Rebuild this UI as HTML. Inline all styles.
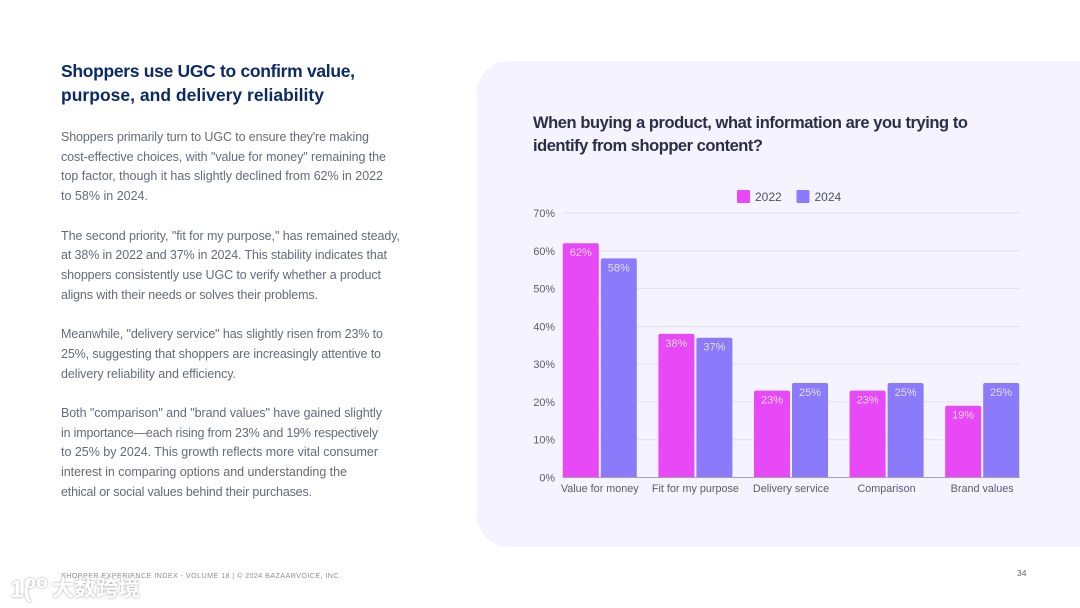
<!DOCTYPE html>
<html lang="en">
<head>
<meta charset="utf-8">
<title>Shoppers use UGC</title>
<style>
html,body{margin:0;padding:0;width:1080px;height:608px;overflow:hidden;background:#fff}
svg{display:block;filter:blur(.35px)}
text{font-family:"Liberation Sans","Noto Sans CJK SC",sans-serif}
.h{font-size:17.5px;font-weight:700;fill:#0b2a66}
.b{font-size:12.5px;fill:#666a79}
.t{font-size:16.5px;font-weight:700;fill:#2c2e45}
.tick{font-size:10.8px;fill:#5a5c6b}
.foot{font-size:7.2px;fill:#8e9098}
</style>
</head>
<body>
<svg id="page" width="1080" height="608" viewBox="0 0 1080 608" xmlns="http://www.w3.org/2000/svg">
<defs>
<filter id="wm" x="-10%" y="-20%" width="120%" height="140%"><feDropShadow dx="0" dy="0" stdDeviation="1" flood-color="#8a8a8a" flood-opacity=".9"/></filter>
</defs>
<rect x="477" y="61" width="640" height="486" rx="32" fill="#f5f3ff"/>

<g>
<text class="h" x="61" y="77" textLength="294" lengthAdjust="spacing">Shoppers use UGC to confirm value,</text>
<text class="h" x="61" y="101" textLength="263" lengthAdjust="spacing">purpose, and delivery reliability</text>
</g>

<g>
<text class="b" x="61" y="141" textLength="308" lengthAdjust="spacing">Shoppers primarily turn to UGC to ensure they're making</text>
<text class="b" x="61" y="161" textLength="325" lengthAdjust="spacing">cost-effective choices, with "value for money" remaining the</text>
<text class="b" x="61" y="180" textLength="322" lengthAdjust="spacing">top factor, though it has slightly declined from 62% in 2022</text>
<text class="b" x="61" y="200" textLength="87" lengthAdjust="spacing">to 58% in 2024.</text>
</g>
<g>
<text class="b" x="61" y="240" textLength="339" lengthAdjust="spacing">The second priority, "fit for my purpose," has remained steady,</text>
<text class="b" x="61" y="259" textLength="326" lengthAdjust="spacing">at 38% in 2022 and 37% in 2024. This stability indicates that</text>
<text class="b" x="61" y="279" textLength="320" lengthAdjust="spacing">shoppers consistently use UGC to verify whether a product</text>
<text class="b" x="61" y="299" textLength="257" lengthAdjust="spacing">aligns with their needs or solves their problems.</text>
</g>
<g>
<text class="b" x="61" y="338" textLength="322" lengthAdjust="spacing">Meanwhile, "delivery service" has slightly risen from 23% to</text>
<text class="b" x="61" y="358" textLength="320" lengthAdjust="spacing">25%, suggesting that shoppers are increasingly attentive to</text>
<text class="b" x="61" y="378" textLength="175" lengthAdjust="spacing">delivery reliability and efficiency.</text>
</g>
<g>
<text class="b" x="61" y="417" textLength="321" lengthAdjust="spacing">Both "comparison" and "brand values" have gained slightly</text>
<text class="b" x="61" y="437" textLength="317" lengthAdjust="spacing">in importance—each rising from 23% and 19% respectively</text>
<text class="b" x="61" y="456" textLength="317" lengthAdjust="spacing">to 25% by 2024. This growth reflects more vital consumer</text>
<text class="b" x="61" y="476" textLength="286" lengthAdjust="spacing">interest in comparing options and understanding the</text>
<text class="b" x="61" y="496" textLength="251" lengthAdjust="spacing">ethical or social values behind their purchases.</text>
</g>

<g>
<text class="t" x="533" y="128" textLength="435" lengthAdjust="spacing">When buying a product, what information are you trying to</text>
<text class="t" x="533" y="151" textLength="230" lengthAdjust="spacing">identify from shopper content?</text>
</g>

<g id="legend"></g>
<g id="grid"></g>
<g id="yaxis"></g>
<g id="bars"></g>
<line x1="563" y1="477.5" x2="1020" y2="477.5" stroke="#a3a3b2" stroke-width="1"/>
<g id="xaxis"></g>

<text class="foot" x="61" y="578" textLength="280" lengthAdjust="spacing">SHOPPER EXPERIENCE INDEX - VOLUME 18  |  © 2024 BAZAARVOICE, INC.</text>
<text x="1017" y="576" font-size="8.5" fill="#5f6372">34</text>

<g filter="url(#wm)" fill="#fff">
<text x="10" y="597" font-size="24" font-weight="700">1(</text>
<text x="24" y="588" font-size="18" font-weight="700" textLength="24" lengthAdjust="spacingAndGlyphs">oo</text>
<text x="52" y="596" font-size="22" font-weight="700" textLength="88" lengthAdjust="spacing">大数跨境</text>
</g>
</svg>

<script>
const categories = ["Value for money", "Fit for my purpose", "Delivery service", "Comparison", "Brand values"];
const values2022 = [62, 38, 23, 23, 19];
const values2024 = [58, 37, 25, 25, 25];
const seriesNames = ["2022", "2024"];
const yTicks = [0, 10, 20, 30, 40, 50, 60, 70];

const NS = "http://www.w3.org/2000/svg";
const COLORS = ["#e649f5", "#8b7bfb"];
const plot = {left: 552, right: 1030, top: 213, bottom: 477.5, max: 70, gridLeft: 563, gridRight: 1020};
const BAR_W = 36;
const BAR_GAP = 2;

function yScale(v) { return plot.bottom - (v / plot.max) * (plot.bottom - plot.top); }
function xBand(i) { return plot.left + (plot.right - plot.left) * (i + 0.5) / categories.length; }
function make(tag, attrs, text) {
  const el = document.createElementNS(NS, tag);
  Object.keys(attrs).forEach(function (k) { el.setAttribute(k, attrs[k]); });
  if (text !== undefined) el.textContent = text;
  return el;
}

const gridG = document.getElementById("grid");
const yG = document.getElementById("yaxis");
yTicks.forEach(function (t) {
  if (t > 0) {
    const line = make("line", {x1: plot.gridLeft, x2: plot.gridRight, y1: yScale(t), y2: yScale(t), stroke: "#e2e1ee", "stroke-width": 1});
    
    
    gridG.appendChild(line);
  }
  const label = make("text", {x: 555, y: yScale(t) + 4, "text-anchor": "end", "class": "tick"}, t + "%");
  
  
  yG.appendChild(label);
});

const barsG = document.getElementById("bars");
[values2022, values2024].forEach(function (series, s) {
  series.forEach(function (v, i) {
    const c = xBand(i);
    const x = s === 0 ? c - BAR_GAP / 2 - BAR_W : c + BAR_GAP / 2;
    const y = yScale(v);
    const bar = make("path", {
      d: "M" + x + " " + plot.bottom + "V" + (y + 2) + "Q" + x + " " + y + " " + (x + 2) + " " + y +
         "H" + (x + BAR_W - 2) + "Q" + (x + BAR_W) + " " + y + " " + (x + BAR_W) + " " + (y + 2) + "V" + plot.bottom + "Z",
      fill: COLORS[s]
    });
    
    
    barsG.appendChild(bar);
    const lab = make("text", {x: x + BAR_W / 2, y: y + 13, "text-anchor": "middle", "font-size": 11, fill: "#fff", "fill-opacity": 0.75}, v + "%");
    
    
    barsG.appendChild(lab);
  });
});

const xG = document.getElementById("xaxis");
categories.forEach(function (c, i) {
  const label = make("text", {x: xBand(i), y: 492, "text-anchor": "middle", "class": "tick"}, c);
  
  
  xG.appendChild(label);
});

const legendG = document.getElementById("legend");
seriesNames.forEach(function (n, i) {
  const x = 737 + i * 59.5;
  const sw = make("rect", {x: x, y: 190, width: 13, height: 13, rx: 1, fill: COLORS[i]});
  
  
  legendG.appendChild(sw);
  const tx = make("text", {x: x + 18, y: 201, "font-size": 12, fill: "#4e5060"}, n);
  
  
  legendG.appendChild(tx);
});
</script>
</body>
</html>
